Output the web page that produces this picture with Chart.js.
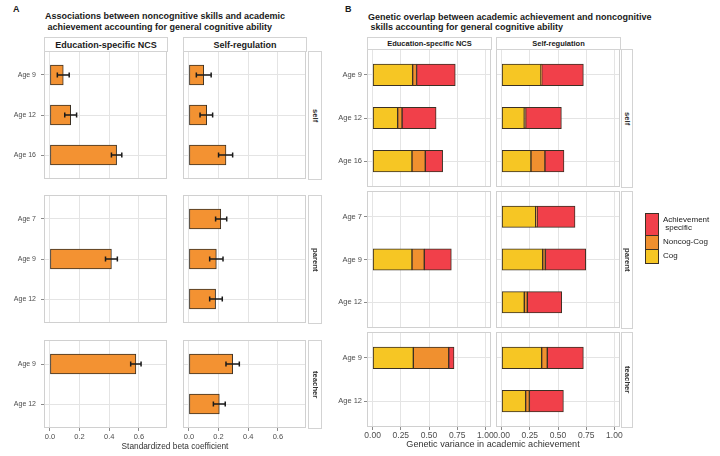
<!DOCTYPE html>
<html>
<head>
<meta charset="utf-8">
<script src="https://cdn.jsdelivr.net/npm/chart.js@4.4.1/dist/chart.umd.min.js"></script>
<style>
  body { margin: 0; background: #fff; width: 720px; height: 456px; position: relative; overflow: hidden;
         font-family: "Liberation Sans", Arial, sans-serif; }
  canvas { position: absolute; }
  .txt { position: absolute; line-height: 1; white-space: pre; color: #1a1a1a; }
  .strip { position: absolute; box-sizing: border-box; border: 1px solid #d3d3d3; background: #fff;
           display: flex; align-items: center; justify-content: center; font-weight: bold; color: #1a1a1a; }
  .rstrip { position: absolute; box-sizing: border-box; border: 1px solid #d3d3d3; background: #fff;
            display: flex; align-items: center; justify-content: center; font-weight: bold; color: #333; }
  .rstrip span { writing-mode: vertical-rl; }
  .key { position: absolute; box-sizing: border-box; border: 1px solid #3b3024; }
</style>
</head>
<body>
<script>
// categories (rows of each facet)
const agesSelf = ['Age 9', 'Age 12', 'Age 16'];
const agesParent = ['Age 7', 'Age 9', 'Age 12'];
const agesTeacher = ['Age 9', 'Age 12'];

// Panel A - standardized beta coefficient with interval
const betaSelfNcs = [0.09, 0.14, 0.45];
const loSelfNcs = [0.05, 0.10, 0.415];
const hiSelfNcs = [0.13, 0.18, 0.485];
const betaSelfSr = [0.10, 0.12, 0.25];
const loSelfSr = [0.05, 0.075, 0.20];
const hiSelfSr = [0.15, 0.16, 0.295];
const betaParentNcs = [null, 0.415, null];
const loParentNcs = [null, 0.375, null];
const hiParentNcs = [null, 0.455, null];
const betaParentSr = [0.215, 0.185, 0.18];
const loParentSr = [0.18, 0.14, 0.14];
const hiParentSr = [0.255, 0.23, 0.225];
const betaTeacherNcs = [0.58, null];
const loTeacherNcs = [0.545, null];
const hiTeacherNcs = [0.615, null];
const betaTeacherSr = [0.295, 0.205];
const loTeacherSr = [0.25, 0.165];
const hiTeacherSr = [0.34, 0.245];

// Panel B - genetic variance in academic achievement (Cog / Noncog-Cog / Achievement specific)
const cogSelfNcs = [0.355, 0.222, 0.349];
const ncSelfNcs = [0.035, 0.039, 0.118];
const achSelfNcs = [0.343, 0.302, 0.154];
const cogSelfSr = [0.349, 0.201, 0.26];
const ncSelfSr = [0.006, 0.012, 0.124];
const achSelfSr = [0.37, 0.317, 0.169];
const cogParentNcs = [null, 0.349, null];
const ncParentNcs = [null, 0.109, null];
const achParentNcs = [null, 0.24, null];
const cogParentSr = [0.302, 0.364, 0.201];
const ncParentSr = [0.012, 0.024, 0.027];
const achParentSr = [0.337, 0.358, 0.305];
const cogTeacherNcs = [0.361, null];
const ncTeacherNcs = [0.314, null];
const achTeacherNcs = [0.047, null];
const cogTeacherSr = [0.355, 0.213];
const ncTeacherSr = [0.05, 0.033];
const achTeacherSr = [0.32, 0.302];

// x tick values
const ticksA = [0, 0.2, 0.4, 0.6];
const ticksB = [0, 0.25, 0.5, 0.75, 1];

const ORANGE_A = '#F39232';
const COG = '#F6C624';
const NONCOG = '#F0902F';
const ACH = '#F1404A';
const EDGE = '#3b3024';

// layout of the facet grids (pixels)
const layoutA = { cols: [[44, 167], [183, 306]], rows: [[51, 179], [195, 323], [340, 428]],
  xmin: -0.04, xmax: 0.79, ticks: ticksA, dec: 1, yw: 42, yPad: 5, yFont: 7, xFont: 7.5, xPad: 1 };
const layoutB = { cols: [[367, 491], [496, 620]], rows: [[49, 187], [191, 328], [332, 427]],
  xmin: -0.05, xmax: 1.05, ticks: ticksB, dec: 2, yw: 30, yPad: 2, yFont: 7.5, xFont: 8.5, xPad: 1 };

const framePlugin = {
  id: 'frame',
  afterDraw(chart) {
    const a = chart.chartArea, c = chart.ctx;
    c.save();
    c.strokeStyle = '#d0d0d0';
    c.lineWidth = 1;
    c.strokeRect(a.left + 0.5, a.top + 0.5, a.right - a.left - 1, a.bottom - a.top - 1);
    c.restore();
  }
};

function errorPlugin(lo, hi) {
  return {
    id: 'errbars',
    afterDatasetsDraw(chart) {
      const { ctx, scales: { x, y } } = chart;
      ctx.save();
      ctx.strokeStyle = '#1a1a1a';
      ctx.lineWidth = 1.5;
      lo.forEach((l, i) => {
        if (l == null) return;
        const py = y.getPixelForValue(i + 1);
        const a = x.getPixelForValue(l), b = x.getPixelForValue(hi[i]);
        ctx.beginPath();
        ctx.moveTo(a, py); ctx.lineTo(b, py);
        ctx.moveTo(a, py - 2.5); ctx.lineTo(a, py + 2.5);
        ctx.moveTo(b, py - 2.5); ctx.lineTo(b, py + 2.5);
        ctx.stroke();
      });
      ctx.restore();
    }
  };
}

function barSet(vals, color, thick) {
  return {
    data: vals.map((v, i) => (v == null ? null : { x: v, y: i + 1 })).filter(Boolean),
    backgroundColor: color,
    borderColor: EDGE,
    borderWidth: 1,
    borderSkipped: false,
    barThickness: thick
  };
}

function makeFacet(L, col, row, cats, series, extraPlugins) {
  const [x0, x1] = L.cols[col];
  const [y0, y1] = L.rows[row];
  const isLeft = col === 0, isBottom = row === 2;
  const yw = isLeft ? L.yw : 0;
  const padL = isLeft ? 2 : 14, padR = 14;
  const xh = isBottom ? 14 : 0;
  const unit = (y1 - y0) / (cats.length + 0.2);
  const thick = unit * 0.5;

  const cv = document.createElement('canvas');
  cv.width = (x1 - x0) + yw + padL + padR;
  cv.height = (y1 - y0) + xh;
  cv.style.left = (x0 - yw - padL) + 'px';
  cv.style.top = y0 + 'px';
  document.body.appendChild(cv);

  new Chart(cv, {
    type: 'bar',
    data: { datasets: series.map(s => barSet(s.vals, s.color, thick)) },
    options: {
      indexAxis: 'y',
      responsive: false,
      animation: false,
      devicePixelRatio: 1,
      layout: { padding: { left: padL, right: padR, top: 0, bottom: 0 } },
      plugins: { legend: { display: false }, tooltip: { enabled: false } },
      scales: {
        x: {
          type: 'linear', min: L.xmin, max: L.xmax, stacked: true,
          afterBuildTicks: s => { s.ticks = L.ticks.map(v => ({ value: v })); },
          afterFit: s => { s.height = xh; s.paddingLeft = 0; s.paddingRight = 0; },
          ticks: {
            display: isBottom, autoSkip: false, maxRotation: 0, padding: L.xPad,
            color: '#4d4d4d', font: { size: L.xFont, family: 'Liberation Sans' },
            callback: v => Number(v).toFixed(L.dec)
          },
          grid: { color: '#e4e4e4', lineWidth: 1, drawTicks: isBottom, tickLength: 3, tickColor: '#8a8a8a' },
          border: { display: false }
        },
        y: {
          type: 'linear', reverse: true, min: 0.4, max: cats.length + 0.6, stacked: true,
          offset: false,
          afterBuildTicks: s => { s.ticks = cats.map((c, i) => ({ value: i + 1 })); },
          afterFit: s => { s.width = yw; s.paddingTop = 0; s.paddingBottom = 0; },
          ticks: {
            display: isLeft, autoSkip: false, padding: L.yPad,
            color: '#4d4d4d', font: { size: L.yFont, family: 'Liberation Sans' },
            callback: v => cats[Math.round(v) - 1]
          },
          grid: { offset: false, color: '#e4e4e4', lineWidth: 1, drawTicks: isLeft, tickLength: 3, tickColor: '#8a8a8a' },
          border: { display: false }
        }
      }
    },
    plugins: [framePlugin].concat(extraPlugins || [])
  });
}

// Panel A facets
const rowsA = [
  { cats: agesSelf, ncs: [betaSelfNcs, loSelfNcs, hiSelfNcs], sr: [betaSelfSr, loSelfSr, hiSelfSr] },
  { cats: agesParent, ncs: [betaParentNcs, loParentNcs, hiParentNcs], sr: [betaParentSr, loParentSr, hiParentSr] },
  { cats: agesTeacher, ncs: [betaTeacherNcs, loTeacherNcs, hiTeacherNcs], sr: [betaTeacherSr, loTeacherSr, hiTeacherSr] }
];
rowsA.forEach((r, ri) => {
  [r.ncs, r.sr].forEach((d, ci) => {
    makeFacet(layoutA, ci, ri, r.cats, [{ vals: d[0], color: ORANGE_A }], [errorPlugin(d[1], d[2])]);
  });
});

// Panel B facets
const rowsB = [
  { cats: agesSelf, ncs: [cogSelfNcs, ncSelfNcs, achSelfNcs], sr: [cogSelfSr, ncSelfSr, achSelfSr] },
  { cats: agesParent, ncs: [cogParentNcs, ncParentNcs, achParentNcs], sr: [cogParentSr, ncParentSr, achParentSr] },
  { cats: agesTeacher, ncs: [cogTeacherNcs, ncTeacherNcs, achTeacherNcs], sr: [cogTeacherSr, ncTeacherSr, achTeacherSr] }
];
rowsB.forEach((r, ri) => {
  [r.ncs, r.sr].forEach((d, ci) => {
    makeFacet(layoutB, ci, ri, r.cats, [
      { vals: d[0], color: COG },
      { vals: d[1], color: NONCOG },
      { vals: d[2], color: ACH }
    ]);
  });
});

// text helpers
function text(t, x, yc, size, opts = {}) {
  const el = document.createElement('div');
  el.className = 'txt';
  el.textContent = t;
  el.style.left = x + 'px';
  el.style.top = yc + 'px';
  el.style.fontSize = size + 'px';
  if (opts.bold) el.style.fontWeight = 'bold';
  if (opts.color) el.style.color = opts.color;
  el.style.transform = opts.center ? 'translate(-50%,-50%)' : 'translateY(-50%)';
  document.body.appendChild(el);
}
function strip(x0, x1, y0, y1, t, size) {
  const el = document.createElement('div');
  el.className = 'strip';
  Object.assign(el.style, { left: x0 + 'px', top: y0 + 'px', width: (x1 - x0) + 'px', height: (y1 - y0) + 'px', fontSize: size + 'px' });
  el.textContent = t;
  document.body.appendChild(el);
}
function rowStrip(x0, x1, y0, y1, t, size) {
  const el = document.createElement('div');
  el.className = 'rstrip';
  Object.assign(el.style, { left: x0 + 'px', top: y0 + 'px', width: (x1 - x0) + 'px', height: (y1 - y0) + 'px', fontSize: size + 'px' });
  const sp = document.createElement('span');
  sp.textContent = t;
  el.appendChild(sp);
  document.body.appendChild(el);
}

const colNames = ['Education-specific NCS', 'Self-regulation'];
const rowNames = ['self', 'parent', 'teacher'];

// panel A labels
text('A', 13, 9, 9, { bold: true });
text('Associations between noncognitive skills and academic', 45, 16, 9, { bold: true });
text(' achievement accounting for general cognitive ability', 45, 27, 9, { bold: true });
layoutA.cols.forEach((c, i) => strip(c[0], c[1] + 1, 37, 52, colNames[i], 9));
layoutA.rows.forEach((r, i) => rowStrip(308, 322, r[0], r[1] + 1, rowNames[i], 7.7));
text('Standardized beta coefficient', 175, 446, 8.3, { center: true, color: '#333' });

// panel B labels
text('B', 345, 9, 9, { bold: true });
text('Genetic overlap between academic achievement and noncognitive', 368, 17, 9, { bold: true });
text(' skills accounting for general cognitive ability', 368, 27, 9, { bold: true });
layoutB.cols.forEach((c, i) => strip(c[0], c[1] + 1, 37, 50, colNames[i], 7.5));
layoutB.rows.forEach((r, i) => rowStrip(621, 633, r[0], r[1] + 1, rowNames[i], 7.7));
text('Genetic variance in academic achievement', 493, 445, 9.1, { center: true, color: '#333' });

// legend
const legendItems = [
  { label: 'Achievement\n specific', color: ACH, y0: 213, y1: 235 },
  { label: 'Noncog-Cog', color: NONCOG, y0: 235, y1: 249 },
  { label: 'Cog', color: COG, y0: 249, y1: 263 }
];
legendItems.forEach(it => {
  const k = document.createElement('div');
  k.className = 'key';
  Object.assign(k.style, { left: '645px', top: it.y0 + 'px', width: '14px', height: (it.y1 - it.y0 + 1) + 'px', background: it.color });
  document.body.appendChild(k);
  text(it.label, 663, (it.y0 + it.y1) / 2, 8, { color: '#1a1a1a' });
});
</script>
</body>
</html>
